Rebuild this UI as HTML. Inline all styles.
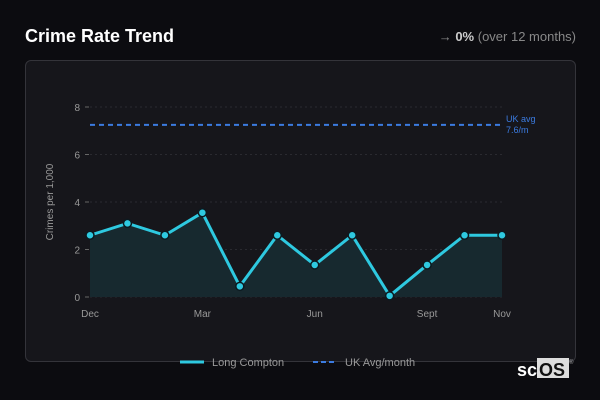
<!DOCTYPE html>
<html><head><meta charset="utf-8"><style>
body{margin:0;width:600px;height:400px;background:#0c0c10;font-family:"Liberation Sans",sans-serif;overflow:hidden;position:relative}
.t{position:absolute;left:25px;top:26px;color:#fff;font-weight:bold;font-size:18px}
.c{position:absolute;right:24px;top:29px;color:#888;font-size:13px}
.card{position:absolute;left:25px;top:60px;width:549px;height:300px;border:1px solid #34343a;border-radius:6px;background:#16161b}
svg{position:absolute;left:0;top:0}
</style></head><body>
<div class="t">Crime Rate Trend</div>
<div class="c">→ <b style="color:#ccc">0%</b> (over 12 months)</div>
<div class="card"></div>
<svg width="600" height="400" id="s"></svg>
<script>
const months=["Dec","Jan","Feb","Mar","Apr","May","Jun","Jul","Aug","Sept","Oct","Nov"];
const values=[2.6,3.1,2.6,3.55,0.45,2.6,1.35,2.6,0.05,1.35,2.6,2.6];
const ukAvg=[7.25];
const yTicks=[0,2,4,6,8];
const xLabels=["Dec","Mar","Jun","Sept","Nov"];
const s=document.getElementById('s');const NS="http://www.w3.org/2000/svg";
const X=i=>90+i*(412/(months.length-1));const Y=v=>297-v*23.75;
function el(t,a,txt){const e=document.createElementNS(NS,t);for(const k in a)e.setAttribute(k,a[k]);if(txt!=null)e.textContent=txt;s.appendChild(e);return e;}
yTicks.forEach(v=>{let e=el('line',{x1:90,x2:502,y1:Y(v),y2:Y(v),stroke:'#2a2a30','stroke-dasharray':'2 3'});

e=el('line',{x1:85,x2:89,y1:Y(v),y2:Y(v),stroke:'#666'});
e=el('text',{x:80,y:Y(v)+4,fill:'#999','font-size':'10','text-anchor':'end'},v);
});
xLabels.forEach(m=>{const e=el('text',{x:X(months.indexOf(m)),y:317,fill:'#999','font-size':'10','text-anchor':'middle'},m);
});
let yt=el('text',{x:0,y:0,fill:'#999','font-size':'10','text-anchor':'middle',transform:'translate(53,202) rotate(-90)'},'Crimes per 1,000');

let pts=values.map((v,i)=>X(i)+','+Y(v)).join(' ');
let a=el('polygon',{points:X(0)+','+Y(0)+' '+pts+' '+X(values.length-1)+','+Y(0),fill:'#17292f'});

let u=el('line',{x1:90,x2:502,y1:Y(ukAvg[0]),y2:Y(ukAvg[0]),stroke:'#3b7be0','stroke-width':2,'stroke-dasharray':'5 4'});

let ul=el('text',{x:506,y:122,fill:'#3b7be0','font-size':'9'},'UK avg');
el('text',{x:506,y:133,fill:'#3b7be0','font-size':'9'},'7.6/m');
let l=el('polyline',{points:pts,fill:'none',stroke:'#2ec9e0','stroke-width':3,'stroke-linejoin':'round'});

values.forEach((v,i)=>{const c=el('circle',{cx:X(i),cy:Y(v),r:4,fill:'#2ec9e0',stroke:'#0c1a20','stroke-width':1.5});
});
let g=el('line',{x1:180,x2:204,y1:362,y2:362,stroke:'#2ec9e0','stroke-width':3});
el('text',{x:212,y:366,fill:'#999','font-size':'11'},'Long Compton');
g=el('line',{x1:313,x2:337,y1:362,y2:362,stroke:'#3b7be0','stroke-width':2,'stroke-dasharray':'5 3'});
el('text',{x:345,y:366,fill:'#999','font-size':'11'},'UK Avg/month');
let lg=el('rect',{x:537,y:358,width:32,height:20,fill:'#ddd'});
el('text',{x:517,y:376,fill:'#fff','font-size':'18','font-weight':'bold'},'sc');
el('text',{x:539,y:376,fill:'#111','font-size':'18','font-weight':'bold'},'OS');
el('text',{x:569,y:364,fill:'#aaa','font-size':'6'},'®');
</script>
</body></html>
